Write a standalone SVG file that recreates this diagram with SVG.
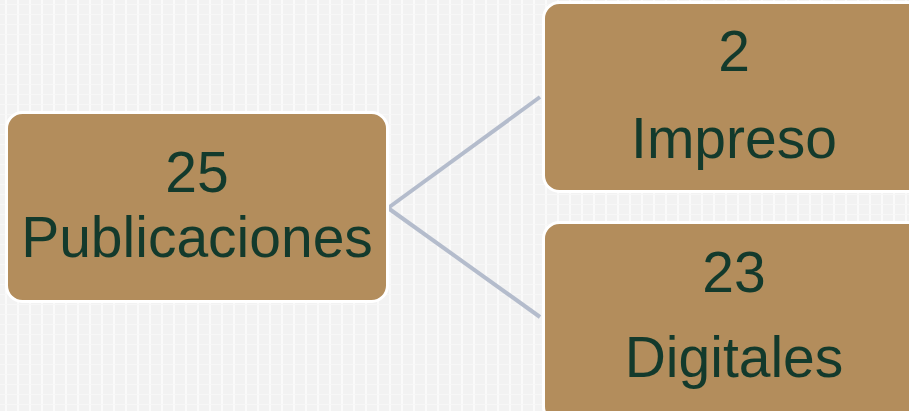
<svg xmlns="http://www.w3.org/2000/svg" width="909" height="411" viewBox="0 0 909 411">
<defs>
<pattern id="bg" width="12" height="10" patternUnits="userSpaceOnUse">
<rect width="12" height="10" fill="#f2f2f2"/>
<rect x="5" y="0" width="2" height="10" fill="#fafafa"/>
<rect x="0" y="4" width="12" height="1" fill="#f7f7f7"/>
</pattern>
</defs>
<style>
.node{fill:#b38d5c;stroke:#ffffff;stroke-width:3}
.lbl{font-family:"Liberation Sans",Arial,sans-serif;font-size:57px;fill:#133a2c;text-anchor:middle}
.conn{stroke:#b4bccc;stroke-width:4;fill:none}
</style>
<rect width="909" height="411" fill="url(#bg)"/>
<g id="connectors">
<line class="conn" x1="388" y1="208" x2="540" y2="97"/>
<line class="conn" x1="388" y1="208" x2="540" y2="317"/>
</g>
<g id="node-publicaciones">
<rect class="node" x="6.500" y="112.500" width="381" height="189" rx="16"/>
<text class="lbl" x="197" y="192">25</text>
<text class="lbl" x="197" y="257">Publicaciones</text>
</g>
<g id="node-impreso">
<rect class="node" x="543.500" y="2.500" width="380" height="189" rx="16"/>
<text class="lbl" x="734" y="71">2</text>
<text class="lbl" x="734" y="158">Impreso</text>
</g>
<g id="node-digitales">
<rect class="node" x="543.500" y="222.500" width="380" height="200" rx="16"/>
<text class="lbl" x="734" y="292">23</text>
<text class="lbl" x="734" y="377">Digitales</text>
</g>
</svg>
